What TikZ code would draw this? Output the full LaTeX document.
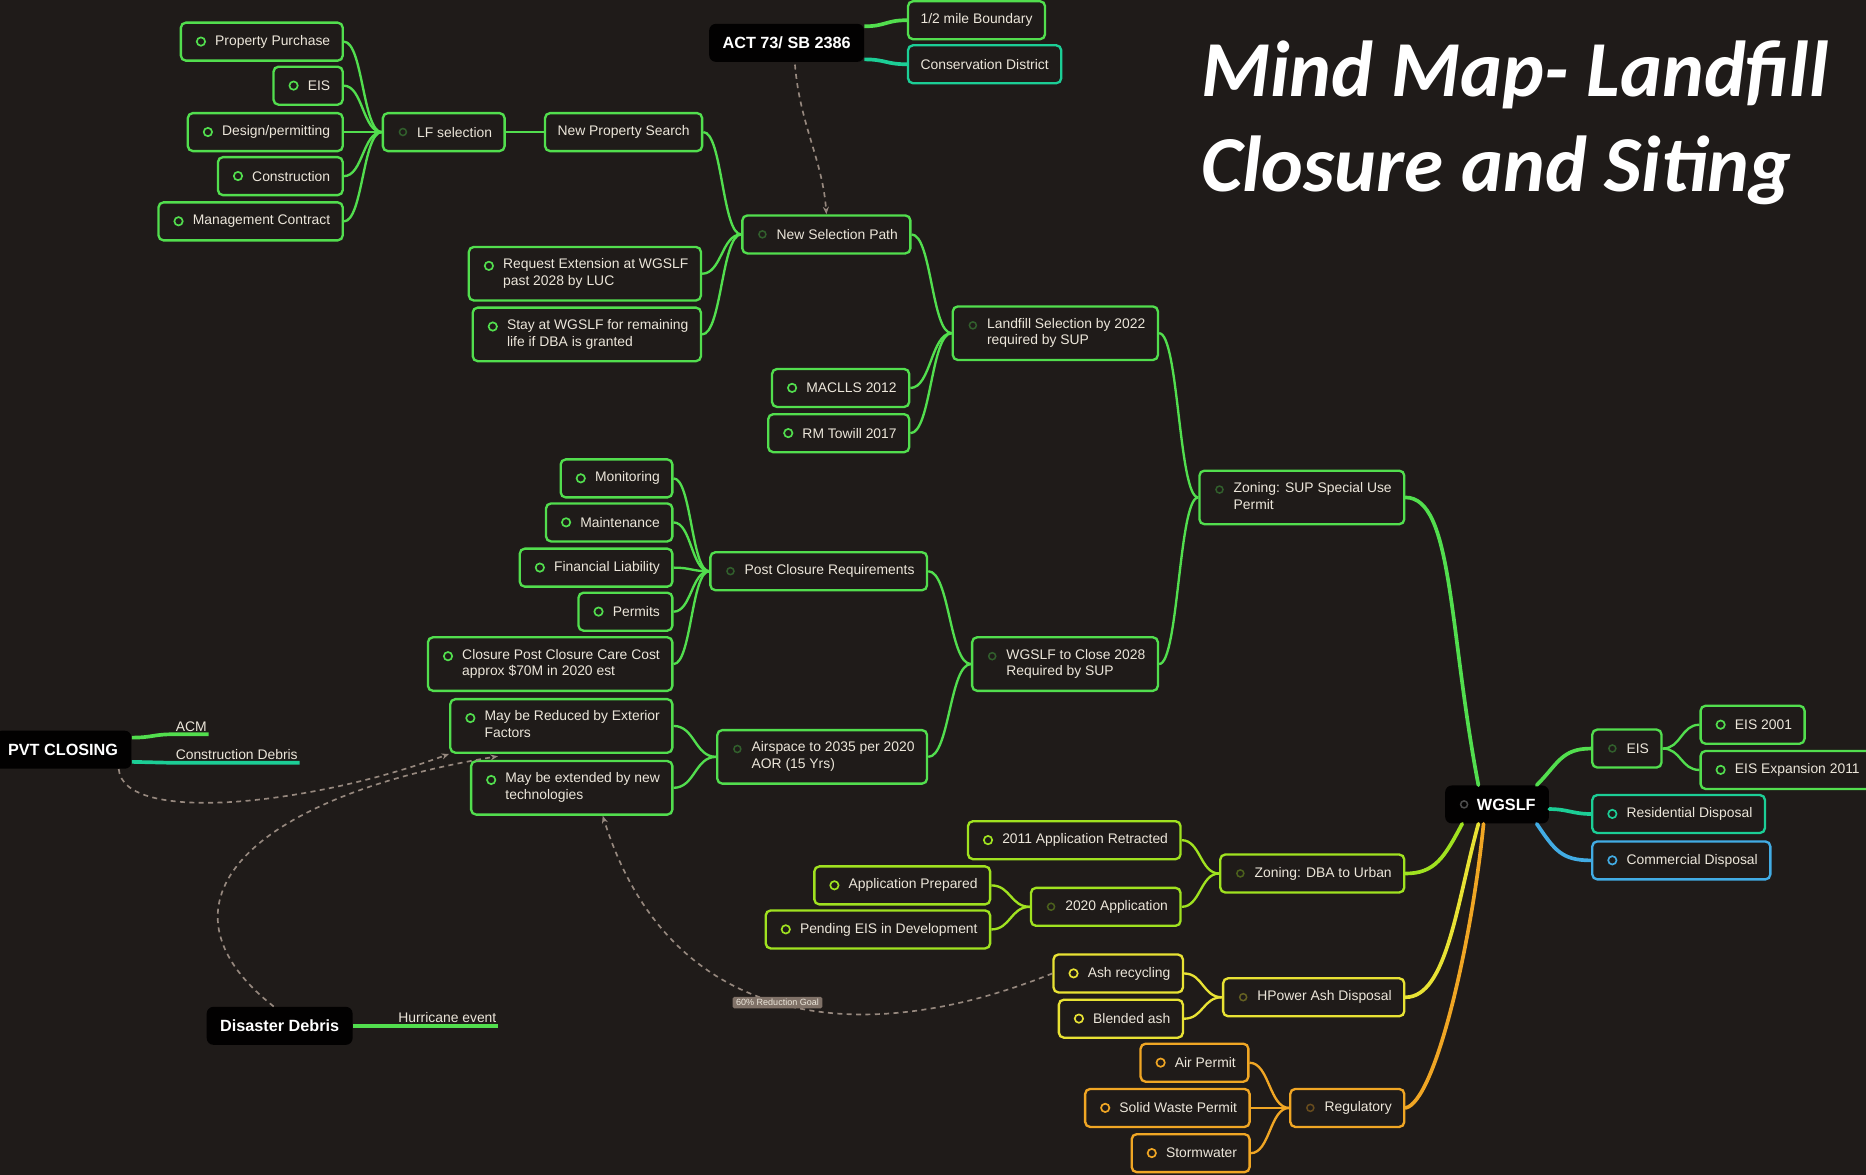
\documentclass[tikz,border=0pt]{standalone}
\usepackage{fontspec}
\setmainfont{Liberation Sans}
\newfontfamily\titlefont{Carlito}
\usetikzlibrary{arrows.meta,calc}

\definecolor{bg}{RGB}{31,27,25}
\definecolor{ink}{RGB}{236,230,218}
\definecolor{cgrn}{RGB}{82,222,78}
\definecolor{cteal}{RGB}{28,206,150}
\definecolor{csky}{RGB}{66,172,228}
\definecolor{clime}{RGB}{160,226,32}
\definecolor{cyel}{RGB}{232,226,52}
\definecolor{corg}{RGB}{240,166,36}
\definecolor{dashc}{RGB}{150,136,126}
\definecolor{goalc}{RGB}{128,114,104}

\newcommand{\two}[2]{\begin{tabular}{@{}l@{}}#1\\#2\end{tabular}}

\tikzset{
  topic/.style={draw=#1, fill=bg, text=ink, line width=1.4pt, rounded corners=3pt,
    minimum height=22.7pt, inner xsep=7.5pt, inner ysep=6pt,
    font=\fontsize{8.3}{10}\selectfont},
  leaf/.style={topic=#1, execute at begin node={\hspace*{13pt}},
    path picture={\draw[#1, line width=1pt] ([shift={(12pt,-11.3pt)}]path picture bounding box.north west) circle (2.5pt);}},
  hub/.style={topic=#1, execute at begin node={\hspace*{13pt}},
    path picture={\draw[#1!35!bg, line width=0.9pt] ([shift={(12pt,-11.3pt)}]path picture bounding box.north west) circle (2.1pt);}},
  root/.style={fill=black!95!bg, text=white, rounded corners=4pt, minimum height=22.7pt,
    inner xsep=8pt, font=\fontsize{9.7}{11}\selectfont\bfseries},
  rootic/.style={root, execute at begin node={\hspace*{11pt}},
    path picture={\draw[gray!60!black, line width=0.9pt] ([shift={(11.3pt,-11.3pt)}]path picture bounding box.north west) circle (2.1pt);}},
  uline/.style={text=ink, inner xsep=1pt, inner ysep=1.5pt, font=\fontsize{8.3}{10}\selectfont},
  goal/.style={fill=goalc, text=ink, rounded corners=1pt, inner xsep=2pt, inner ysep=1.5pt,
    font=\fontsize{5.4}{6}\selectfont},
  headline/.style={text=white, inner sep=0pt, font=\titlefont\fontsize{47.4}{56}\selectfont\bfseries\itshape},
  link/.style={line width=1.4pt, to path={let \p1=(\tikztostart), \p2=(\tikztotarget) in
    (\tikztostart) .. controls (\x1/2+\x2/2,\y1) and (\x1/2+\x2/2,\y2) .. (\tikztotarget)}},
  trunk/.style={line width=2.2pt, line cap=round},
  rel/.style={dashc, line width=1pt, dash pattern=on 3pt off 2.6pt, -{Stealth[length=4.5pt,width=3.6pt]}},
}

\begin{document}
\begin{tikzpicture}[x=0.025cm,y=-0.025cm]
\fill[bg] (0,0) rectangle (1568,987);
\useasboundingbox (0,0) rectangle (1568,987);

% title
\node[headline, anchor=base west] (ttl1) at (1009,81) {Mind Map- Landfill};
\node[headline, anchor=base west] (ttl2) at (1009,161) {Closure and Siting};

% root topics
\node[rootic] (wgslf) at (1258,676) {WGSLF};
\node[root] (act) at (661,36) {ACT 73/ SB 2386};
\node[root] (pvt) at (53,630) {PVT CLOSING};
\node[root] (dd) at (235,862) {Disaster Debris};

% ACT 73 branch
\node[topic=cgrn, anchor=west] (half) at (762,17) {1/2 mile Boundary};
\node[topic=cteal, anchor=west] (cons) at (762,54) {Conservation District};

% LF selection
\node[leaf=cgrn, anchor=east] (pp) at (289,35) {Property Purchase};
\node[leaf=cgrn, anchor=east] (eisl) at (289,72) {EIS};
\node[leaf=cgrn, anchor=east] (design) at (289,111) {Design/permitting};
\node[leaf=cgrn, anchor=east] (constr) at (289,148) {Construction};
\node[leaf=cgrn, anchor=east] (mgmt) at (289,186) {Management Contract};
\node[hub=cgrn, anchor=east] (lfsel) at (425,111) {LF selection};
\node[topic=cgrn, anchor=east] (nps) at (591,111) {New Property Search};
\node[leaf=cgrn, anchor=east] (reqext) at (590,230) {\two{Request Extension at WGSLF}{past 2028 by LUC}};
\node[leaf=cgrn, anchor=east] (stay) at (590,281) {\two{Stay at WGSLF for remaining}{life if DBA is granted}};
\node[hub=cgrn, anchor=east] (nsp) at (766,197) {New Selection Path};
\node[leaf=cgrn, anchor=east] (macl) at (765,326) {MACLLS 2012};
\node[leaf=cgrn, anchor=east] (rmt) at (765,364) {RM Towill 2017};
\node[hub=cgrn, anchor=east] (lfs22) at (974,280) {\two{Landfill Selection by 2022}{required by SUP}};
\node[hub=cgrn, anchor=east] (zsup) at (1181,418) {\two{Zoning: SUP Special Use}{Permit}};

% closure
\node[leaf=cgrn, anchor=east] (mon) at (566,402) {Monitoring};
\node[leaf=cgrn, anchor=east] (maint) at (566,439) {Maintenance};
\node[leaf=cgrn, anchor=east] (finl) at (566,477) {Financial Liability};
\node[leaf=cgrn, anchor=east] (perm) at (566,514) {Permits};
\node[leaf=cgrn, anchor=east] (cost) at (566,558) {\two{Closure Post Closure Care Cost}{approx \$70M in 2020 est}};
\node[hub=cgrn, anchor=east] (pcr) at (780,480) {Post Closure Requirements};
\node[leaf=cgrn, anchor=east] (reduced) at (566,610) {\two{May be Reduced by Exterior}{Factors}};
\node[leaf=cgrn, anchor=east] (ext) at (566,662) {\two{May be extended by new}{technologies}};
\node[hub=cgrn, anchor=east] (air) at (780,636) {\two{Airspace to 2035 per 2020}{AOR (15 Yrs)}};
\node[hub=cgrn, anchor=east] (close28) at (974,558) {\two{WGSLF to Close 2028}{Required by SUP}};

% DBA
\node[hub=clime, anchor=east] (zdba) at (1181,734) {Zoning: DBA to Urban};
\node[leaf=clime, anchor=east] (app11) at (993,706) {2011 Application Retracted};
\node[hub=clime, anchor=east] (app20) at (993,762) {2020 Application};
\node[leaf=clime, anchor=east] (appprep) at (833,744) {Application Prepared};
\node[leaf=clime, anchor=east] (pend) at (833,781) {Pending EIS in Development};

% ash
\node[hub=cyel, anchor=east] (hpow) at (1181,838) {HPower Ash Disposal};
\node[leaf=cyel, anchor=east] (ashrec) at (995,818) {Ash recycling};
\node[leaf=cyel, anchor=east] (blend) at (995,856) {Blended ash};

% permits
\node[hub=corg, anchor=east] (reg) at (1181,931) {Regulatory};
\node[leaf=corg, anchor=east] (airp) at (1050,893) {Air Permit};
\node[leaf=corg, anchor=east] (swp) at (1051,931) {Solid Waste Permit};
\node[leaf=corg, anchor=east] (storm) at (1051,969) {Stormwater};

% right side
\node[hub=cgrn, anchor=west] (eisr) at (1337,629) {EIS};
\node[leaf=cgrn, anchor=west] (eis01) at (1428,609) {EIS 2001};
\node[leaf=cgrn, anchor=west] (eis11) at (1428,647) {EIS Expansion 2011};
\node[leaf=cteal, anchor=west] (resd) at (1337,684) {Residential Disposal};
\node[leaf=csky, anchor=west] (comd) at (1337,723) {Commercial Disposal};

% floating topics
\node[uline, anchor=south west] (acm) at (146,617) {ACM};
\node[uline, anchor=south west] (cdeb) at (146,641) {Construction Debris};
\node[uline, anchor=south west] (hur) at (333,862) {Hurricane event};

% main branches
\draw[cgrn, trunk] (wgslf.134) .. controls +(-25,-130) and +(40,0) .. (zsup.east);
\draw[cgrn, trunk] (wgslf.26) .. controls +(18,-18) and +(-25,0) .. (eisr.west);
\draw[cteal, trunk] (wgslf.-5) .. controls +(15,0) and +(-15,0) .. (resd.west);
\draw[csky, trunk] (wgslf.-26) .. controls +(15,22) and +(-25,0) .. (comd.west);
\draw[clime, trunk] (wgslf.209) .. controls +(-15,28) and +(25,0) .. (zdba.east);
\draw[cyel, trunk] (wgslf.226) .. controls +(-18,65) and +(35,0) .. (hpow.east);
\draw[corg, trunk] (wgslf.235) .. controls +(-10,100) and +(25,-5) .. (reg.east);

\draw[cgrn, link, line width=2.2pt] (act.12) to (half.west);
\draw[cteal, link, line width=2.2pt] (act.-12) to (cons.west);
\draw[cgrn, link, line width=2.2pt] (pvt.10) to (acm.south west) -- (acm.south east);
\draw[cteal, link, line width=2.2pt] (pvt.-10) to (cdeb.south west) -- (cdeb.south east);
\draw[cgrn, line width=2.2pt] (dd.east) -- (hur.south west) -- (hur.south east);

% sub branches
\draw[cgrn, link] (lfsel.west) to (pp.east);
\draw[cgrn, link] (lfsel.west) to (eisl.east);
\draw[cgrn, link] (lfsel.west) to (design.east);
\draw[cgrn, link] (lfsel.west) to (constr.east);
\draw[cgrn, link] (lfsel.west) to (mgmt.east);
\draw[cgrn, link] (nps.west) to (lfsel.east);
\draw[cgrn, link] (nsp.west) to (nps.east);
\draw[cgrn, link] (nsp.west) to (reqext.east);
\draw[cgrn, link] (nsp.west) to (stay.east);
\draw[cgrn, link] (lfs22.west) to (nsp.east);
\draw[cgrn, link] (lfs22.west) to (macl.east);
\draw[cgrn, link] (lfs22.west) to (rmt.east);
\draw[cgrn, link] (zsup.west) to (lfs22.east);
\draw[cgrn, link] (zsup.west) to (close28.east);
\draw[cgrn, link] (close28.west) to (pcr.east);
\draw[cgrn, link] (close28.west) to (air.east);
\draw[cgrn, link] (pcr.west) to (mon.east);
\draw[cgrn, link] (pcr.west) to (maint.east);
\draw[cgrn, link] (pcr.west) to (finl.east);
\draw[cgrn, link] (pcr.west) to (perm.east);
\draw[cgrn, link] (pcr.west) to (cost.east);
\draw[cgrn, link] (air.west) to (reduced.east);
\draw[cgrn, link] (air.west) to (ext.east);
\draw[clime, link] (zdba.west) to (app11.east);
\draw[clime, link] (zdba.west) to (app20.east);
\draw[clime, link] (app20.west) to (appprep.east);
\draw[clime, link] (app20.west) to (pend.east);
\draw[cyel, link] (hpow.west) to (ashrec.east);
\draw[cyel, link] (hpow.west) to (blend.east);
\draw[corg, link] (reg.west) to (airp.east);
\draw[corg, link] (reg.west) to (swp.east);
\draw[corg, link] (reg.west) to (storm.east);
\draw[cgrn, link] (eisr.east) to (eis01.west);
\draw[cgrn, link] (eisr.east) to (eis11.west);

% relationships
\draw[rel] ($(act.south)+(7,2)$) .. controls +(4,50) and +(-3,-45) .. (nsp.north);
\draw[rel] ($(pvt.south east)+(-11,0)$) .. controls +(4,47) and +(-116,43) .. (reduced.south west);
\draw[rel] ($(dd.north)+(-5,0)$) .. controls +(-110,-87) and +(-207,34) .. ($(reduced.south west)+(41,2)$);
\draw[rel] (ashrec.west) .. controls +(-167,67) and +(55,175) .. node[goal, pos=0.5] (goal) {60\% Reduction Goal} ($(ext.south)+(26,0)$);
\end{tikzpicture}
\end{document}
